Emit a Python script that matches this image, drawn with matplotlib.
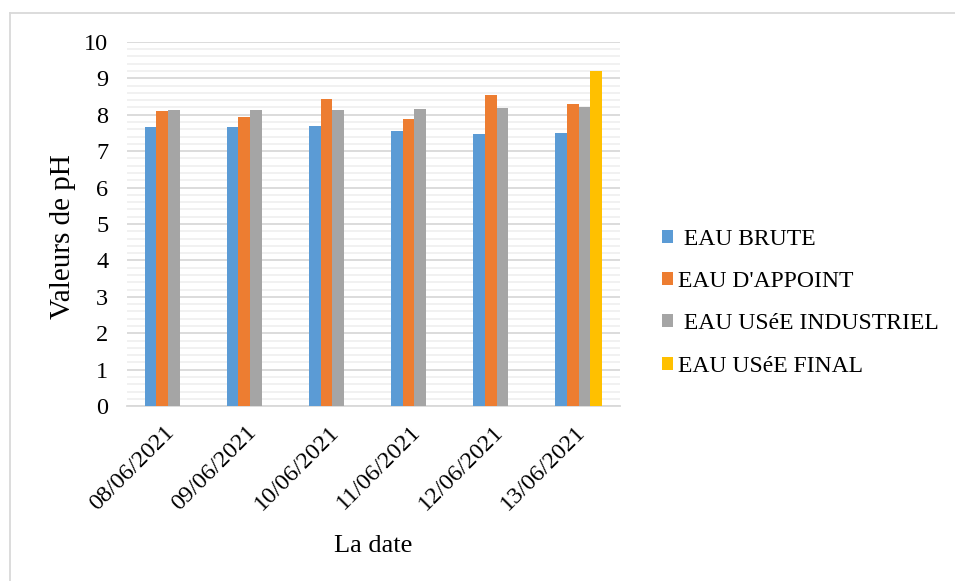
import matplotlib.pyplot as plt
import matplotlib.transforms as mtransforms
import numpy as np
from matplotlib.lines import Line2D
from matplotlib.ticker import MultipleLocator

plt.rcParams['font.family'] = ['Liberation Serif', 'DejaVu Serif']

# pH readings per day
dates = ['08/06/2021', '09/06/2021', '10/06/2021', '11/06/2021', '12/06/2021', '13/06/2021']
eau_brute = [7.66, 7.67, 7.70, 7.54, 7.48, 7.51]
eau_appoint = [8.10, 7.94, 8.44, 7.89, 8.53, 8.29]
eau_usee_industriel = [8.13, 8.12, 8.14, 8.15, 8.18, 8.21]
eau_usee_final = [np.nan, np.nan, np.nan, np.nan, np.nan, 9.19]

series_names = [' EAU BRUTE', "EAU D'APPOINT", ' EAU USéE INDUSTRIEL', 'EAU USéE FINAL']
colors = ['#5B9BD5', '#ED7D31', '#A5A5A5', '#FFC000']

fig = plt.figure(figsize=(9.55, 5.81), dpi=100)
ax = fig.add_axes([0.133, 0.301, 0.516, 0.627])

x = np.arange(len(dates))
width = 1 / 7
all_series = [eau_brute, eau_appoint, eau_usee_industriel, eau_usee_final]
for i, (vals, name, col) in enumerate(zip(all_series, series_names, colors)):
    ax.bar(x + (i - 1.5) * width, vals, width, color=col, label=name, zorder=3)

ax.set_ylim(0, 10)
ax.set_xlim(-0.5, len(dates) - 0.5)
ax.yaxis.set_major_locator(MultipleLocator(1))
ax.yaxis.set_minor_locator(MultipleLocator(0.2))
ax.grid(which='major', axis='y', color='#d9d9d9', linewidth=1.3, zorder=0)
ax.grid(which='minor', axis='y', color='#f0f0f0', linewidth=1.3, zorder=0)

for side in ['top', 'right', 'left']:
    ax.spines[side].set_visible(False)
ax.spines['bottom'].set_color('#d9d9d9')
ax.spines['bottom'].set_linewidth(1.3)

ax.set_xticks(x)
ax.set_xticklabels(dates, rotation=45, ha='right', rotation_mode='anchor')
ax.tick_params(axis='x', length=0, pad=11, labelsize=17.5)
ax.tick_params(axis='y', which='both', length=0, pad=13.5, labelsize=17.5)

# nudge the rotated date labels a little to the left
shift = mtransforms.ScaledTranslation(-3 / 72, 0, fig.dpi_scale_trans)
for lbl in ax.get_xticklabels():
    lbl.set_transform(lbl.get_transform() + shift)

ax.set_xlabel('La date', fontsize=19, labelpad=15)
ax.set_ylabel('Valeurs de pH', fontsize=21)
ax.yaxis.set_label_coords(-0.103, 0.464)

ax.legend(loc='center left', bbox_to_anchor=(0.693, 0.479), bbox_transform=fig.transFigure,
          frameon=False, fontsize=17, handlelength=0.47, handleheight=0.47,
          handletextpad=0.2, labelspacing=0.9, borderpad=0, borderaxespad=0)

# light frame on the top and left edges
fig.add_artist(Line2D([10 / 955, 1], [1 - 13 / 581, 1 - 13 / 581], transform=fig.transFigure,
                      color='#d9d9d9', linewidth=1.3))
fig.add_artist(Line2D([10 / 955, 10 / 955], [0, 1 - 13 / 581], transform=fig.transFigure,
                      color='#d9d9d9', linewidth=1.3))

fig.savefig('out.png', dpi=100)
